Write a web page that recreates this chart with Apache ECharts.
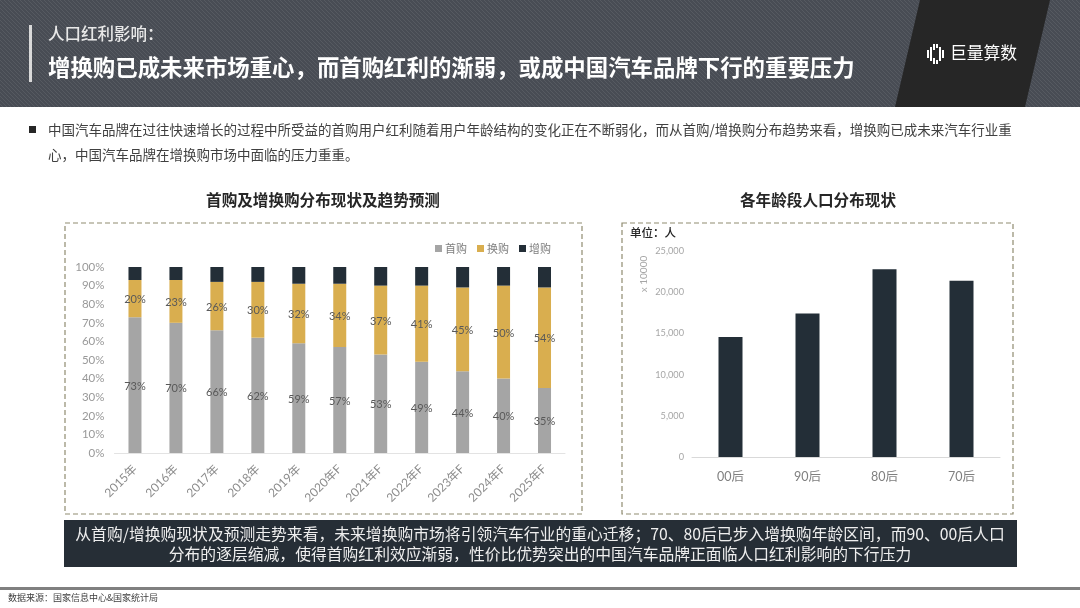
<!DOCTYPE html>
<html>
<head>
<meta charset="utf-8">
<style>
html, body { margin: 0; padding: 0; background: #fff; }
#main { width: 1080px; height: 608px; }
</style>
<script src="https://cdn.jsdelivr.net/npm/echarts@6/dist/echarts.min.js"></script>
</head>
<body>
<div id="main"></div>
<script>
var years = ['2015年','2016年','2017年','2018年','2019年','2020年F','2021年F','2022年F','2023年F','2024年F','2025年F'];
var firstBuy = [73,70,66,62,59,57,53,49,44,40,35];
var replaceBuy = [20,23,26,30,32,34,37,41,45,50,54];
var addBuy = [7,7,8,8,9,9,10,10,11,10,11];

var ageGroups = ['00后','90后','80后','70后'];
var population = [14560,17400,22780,21400];

var FONT = '"Noto Sans CJK SC", sans-serif';
var NUM_FONT = 'Lato, "Noto Sans CJK SC", sans-serif';

// diagonal hatching of the header band
var hatch = document.createElement('canvas');
hatch.width = 4;
hatch.height = 4;
var hc = hatch.getContext('2d');
hc.fillStyle = '#484c54';
hc.fillRect(0, 0, 4, 4);
hc.strokeStyle = '#565a61';
hc.lineWidth = 1;
hc.beginPath();
hc.moveTo(0, 0); hc.lineTo(4, 4);
hc.moveTo(-2, 2); hc.lineTo(2, 6);
hc.moveTo(2, -2); hc.lineTo(6, 2);
hc.stroke();

function txt(x, y, text, size, color, extra) {
    var style = { x: x, y: y, text: text, font: (extra && extra.weight || 'normal') + ' ' + size + 'px ' + FONT,
        fill: color, textVerticalAlign: 'middle', textAlign: extra && extra.align || 'left' };
    return { type: 'text', silent: true, z: 10, style: style };
}

function dashBox(x, y, w, h) {
    return { type: 'rect', silent: true, z: 0, shape: { x: x, y: y, width: w, height: h },
        style: { fill: 'none', stroke: '#8f8b70', lineWidth: 1.2, lineDash: [5, 3] } };
}

var graphics = [
    { type: 'rect', silent: true, z: 1, shape: { x: 0, y: 0, width: 1080, height: 107 }, style: { fill: { image: hatch, repeat: 'repeat' } } },
    { type: 'polygon', silent: true, z: 2, shape: { points: [[920, 0], [1050, 0], [1025, 107], [895, 107]] }, style: { fill: '#262626' } },
    { type: 'rect', silent: true, z: 3, shape: { x: 29, y: 25, width: 3, height: 57 }, style: { fill: '#d9d9d9' } },
    txt(48, 34, '人口红利影响：', 16.5, '#e8e8e8', { weight: 500 }),
    txt(48, 67, '增换购已成未来市场重心，而首购红利的渐弱，或成中国汽车品牌下行的重要压力', 22.42, '#ffffff', { weight: 'bold' }),
    txt(950, 53, '巨量算数', 16.8, '#ffffff'),
    { type: 'rect', silent: true, z: 3, shape: { x: 29, y: 126, width: 7, height: 7 }, style: { fill: '#262626' } },
    txt(48, 130, '中国汽车品牌在过往快速增长的过程中所受益的首购用户红利随着用户年龄结构的变化正在不断弱化，而从首购/增换购分布趋势来看，增换购已成未来汽车行业重', 13.5, '#404040'),
    txt(48, 155, '心，中国汽车品牌在增换购市场中面临的压力重重。', 13.5, '#404040'),
    txt(323, 200, '首购及增换购分布现状及趋势预测', 15.6, '#262626', { weight: 'bold', align: 'center' }),
    txt(818, 200, '各年龄段人口分布现状', 15.6, '#262626', { weight: 'bold', align: 'center' }),
    dashBox(65, 223, 517, 291),
    dashBox(622, 223, 391, 291),
    txt(630, 233, '单位：人', 11.5, '#262626', { weight: 500 }),
    { type: 'text', silent: true, z: 10, x: 644, y: 274, rotation: Math.PI / 2,
        style: { x: 0, y: 0, text: 'x 10000', font: '10px ' + NUM_FONT, fill: '#a6a6a6', textAlign: 'center', textVerticalAlign: 'middle' } },
    { type: 'rect', silent: true, z: 1, shape: { x: 64, y: 520, width: 953, height: 47 }, style: { fill: '#262e36' } },
    txt(540, 534, '从首购/增换购现状及预测走势来看，未来增换购市场将引领汽车行业的重心迁移；70、80后已步入增换购年龄区间，而90、00后人口', 15.8, '#eeeeee', { align: 'center' }),
    txt(540, 554, '分布的逐层缩减，使得首购红利效应渐弱，性价比优势突出的中国汽车品牌正面临人口红利影响的下行压力', 15.8, '#eeeeee', { align: 'center' }),
    { type: 'rect', silent: true, z: 1, shape: { x: 0, y: 587, width: 1080, height: 3 }, style: { fill: '#808080' } },
    txt(8, 598, '数据来源：国家信息中心&国家统计局', 9, '#404040')
];

// logo mark: a ring made of vertical bars
var logoStripes = [[927,50,2,8],[930,47,2,14],[933,44,2,6],[933,58,2,6],[936,44,2,4],[936,60,2,4],[939,47,2,14],[942,50,2,8]];
logoStripes.forEach(function (s) {
    graphics.push({ type: 'rect', silent: true, z: 3, shape: { x: s[0], y: s[1], width: s[2], height: s[3] }, style: { fill: '#ffffff' } });
});

var pctLabel = { show: true, position: 'inside', offset: [0, 1], formatter: '{c}%', color: '#595959', fontSize: 11, fontFamily: NUM_FONT };

var option = {
    animation: false,
    backgroundColor: '#fff',
    textStyle: { fontFamily: FONT },
    graphic: graphics,
    legend: {
        data: ['首购', '换购', '增购'],
        right: 524,
        top: 238,
        itemWidth: 7,
        itemHeight: 7,
        itemGap: 10,
        icon: 'rect',
        textStyle: { color: '#7f7f7f', fontSize: 11, fontFamily: FONT, padding: [0, 0, 0, -2] }
    },
    grid: [
        { left: 114.5, top: 267, width: 450.5, height: 186 },
        { left: 692, top: 251, width: 308, height: 206 }
    ],
    xAxis: [
        { type: 'category', gridIndex: 0, data: years,
            axisLine: { lineStyle: { color: '#e3e3e3' } }, axisTick: { show: false },
            axisLabel: { interval: 0, rotate: 45, margin: 14, color: '#8c8c8c', fontSize: 12, fontFamily: NUM_FONT } },
        { type: 'category', gridIndex: 1, data: ageGroups,
            axisLine: { lineStyle: { color: '#d9d9d9' } }, axisTick: { show: false },
            axisLabel: { margin: 14, color: '#7f7f7f', fontSize: 12.5, fontFamily: NUM_FONT } }
    ],
    yAxis: [
        { type: 'value', gridIndex: 0, min: 0, max: 100, interval: 10,
            axisLine: { show: false }, axisTick: { show: false }, splitLine: { show: false },
            axisLabel: { formatter: '{value}%', margin: 10, padding: [2, 0, 0, 0], color: '#999999', fontSize: 11.5, fontFamily: NUM_FONT } },
        { type: 'value', gridIndex: 1, min: 0, max: 25000, interval: 5000,
            axisLine: { show: false }, axisTick: { show: false }, splitLine: { show: false },
            axisLabel: { margin: 8, padding: [2, 0, 0, 0], color: '#a6a6a6', fontSize: 9.2, fontFamily: NUM_FONT } }
    ],
    series: [
        { name: '首购', type: 'bar', stack: 'share', barWidth: 13, xAxisIndex: 0, yAxisIndex: 0,
            data: firstBuy, itemStyle: { color: '#a5a5a5' }, label: pctLabel },
        { name: '换购', type: 'bar', stack: 'share', barWidth: 13, xAxisIndex: 0, yAxisIndex: 0,
            data: replaceBuy, itemStyle: { color: '#d9ae4f' }, label: pctLabel },
        { name: '增购', type: 'bar', stack: 'share', barWidth: 13, xAxisIndex: 0, yAxisIndex: 0,
            data: addBuy, itemStyle: { color: '#232e37' } },
        { name: '人口', type: 'bar', barWidth: 24, xAxisIndex: 1, yAxisIndex: 1,
            data: population, itemStyle: { color: '#232e37' } }
    ]
};

var myChart = echarts.init(document.getElementById('main'), null, { renderer: 'canvas' });
myChart.setOption(option);
</script>
</body>
</html>
